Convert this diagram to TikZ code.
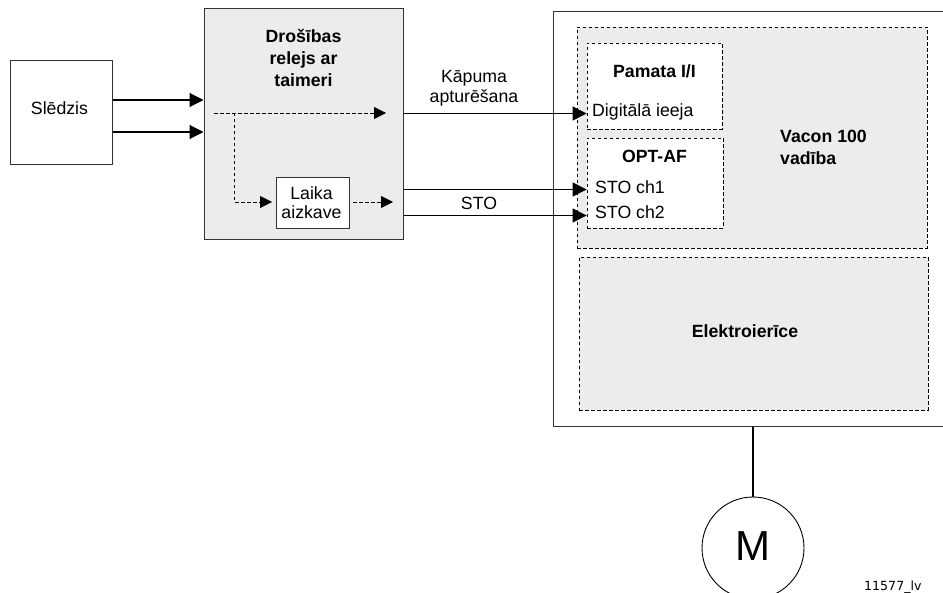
\documentclass[tikz,border=0pt]{standalone}
\usepackage{fontspec}
\setmainfont{Liberation Sans}
\newfontfamily\codefont{DejaVu Sans}
\usetikzlibrary{arrows.meta}
\definecolor{panel}{HTML}{ECECEC}
\definecolor{edge}{HTML}{333333}
\tikzset{
  txt/.style={inner sep=0pt,align=center,font=\fontsize{17.7}{21}\selectfont,text=black},
  boldtxt/.style={txt,font=\fontsize{17.7}{22}\selectfont\bfseries},
  solidbox/.style={draw=edge,line width=1pt,inner sep=0pt},
  dashbox/.style={draw=black,line width=0.8pt,dash pattern=on 3.5pt off 2.5pt,inner sep=0pt},
  sized/.style n args={2}{minimum width=#1,minimum height=#2},
  arr/.style={draw=black,line width=1.1pt,-{Triangle[length=14pt,width=14pt]}},
  thinarr/.style={draw=black,line width=0.9pt,-{Triangle[length=14pt,width=14pt]}},
  darr/.style={draw=black,line width=0.8pt,dash pattern=on 3.5pt off 2.5pt,-{Triangle[length=12pt,width=12pt]}},
}
\begin{document}
\begin{tikzpicture}[x=1pt,y=-1pt]
\useasboundingbox (0,0) rectangle (943,593);
% boxes
\node[solidbox,sized={102.5pt}{104pt}] (sw) at (61.25,112.5) {};
\node[solidbox,fill=panel,sized={199pt}{231pt}] (relay) at (303.5,124) {};
\node[solidbox,fill=white,sized={73pt}{51pt}] (delay) at (312.5,203) {};
\node[solidbox,sized={395pt}{415pt}] (drive) at (750.5,219) {};
\node[dashbox,fill=panel,sized={350pt}{221pt}] (ctrl) at (752,137.5) {};
\node[dashbox,fill=white,sized={135pt}{86pt}] (basic) at (654.5,86) {};
\node[dashbox,fill=white,sized={136pt}{90pt}] (opt) at (655,183) {};
\node[dashbox,fill=panel,sized={349pt}{153pt}] (power) at (753.5,333.5) {};
\node[draw=black,line width=0.9pt,circle,inner sep=0pt,minimum size=102pt] (motor) at (753,548) {};
% labels
\node[txt] (tsw) at (59.5,108.5) {Slēdzis};
\node[boldtxt] (trelay) at (303.5,58) {Drošības\\relejs ar\\taimeri};
\node[txt,font=\fontsize{17.7}{19}\selectfont] (tdelay) at (311.5,202.5) {Laika\\aizkave};
\node[txt,font=\fontsize{17.7}{20}\selectfont] (tlift) at (474,88) {Kāpuma\\apturēšana};
\node[txt] (tsto) at (479,203) {STO};
\node[boldtxt] (tbasic) at (654.5,71) {Pamata I/I};
\node[txt,anchor=west] (tdi) at (592,112) {Digitālā ieeja};
\node[boldtxt] (topt) at (654.5,156) {OPT-AF};
\node[txt,anchor=west] (tch1) at (595,187) {STO ch1};
\node[txt,anchor=west] (tch2) at (595,212) {STO ch2};
\node[boldtxt,align=left,anchor=west] (tctrl) at (780,147) {Vacon 100\\vadība};
\node[boldtxt] (tpower) at (745,331) {Elektroierīce};
\node[txt,font=\fontsize{42}{42}\selectfont] (tm) at (753,546) {M};
\node[txt,font=\codefont\fontsize{12.6}{14}\selectfont,anchor=west] (tcode) at (864,587) {11577\_lv};
% helper coordinates
\coordinate (yA) at (0,100);
\coordinate (yB) at (0,132);
\coordinate (yC) at (0,113.5);
\coordinate (yD) at (0,189.5);
\coordinate (yE) at (0,215.5);
\coordinate (dS) at (214,113);
\coordinate (dE) at (386,113);
\coordinate (dJ) at (234,113);
\coordinate (dK) at (234,202);
\coordinate (dL) at (272,202);
\coordinate (dM) at (353,202);
\coordinate (dN) at (393,202);
% connectors
\draw[arr] (sw.east |- yA) -- (relay.west |- yA);
\draw[arr] (sw.east |- yB) -- (relay.west |- yB);
\draw[thinarr] (relay.east |- yC) -- (basic.west |- yC);
\draw[thinarr] (relay.east |- yD) -- (opt.west |- yD);
\draw[thinarr] (relay.east |- yE) -- (opt.west |- yE);
\draw[darr] (dS) -- (dE);
\draw[darr] (dJ) -- (dK) -- (dL);
\draw[darr] (dM) -- (dN);
\draw[draw=black,line width=1.3pt] (drive.south -| motor.north) -- (motor.north);
\end{tikzpicture}
\end{document}
